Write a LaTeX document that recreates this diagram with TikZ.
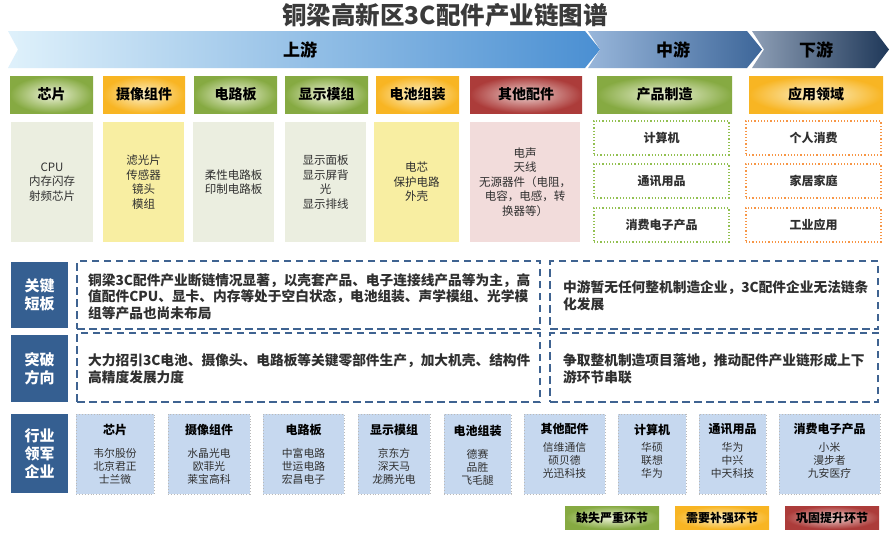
\documentclass[tikz,border=0pt]{standalone}
\usepackage{fontspec}
\setmainfont{Noto Sans CJK SC}
\definecolor{titlegray}{HTML}{3A3A3A}
\definecolor{gA}{HTML}{86AA42}
\definecolor{gAl}{HTML}{EEF3DA}
\definecolor{oA}{HTML}{F8B523}
\definecolor{oAl}{HTML}{FBF1CC}
\definecolor{rA}{HTML}{AC3C3A}
\definecolor{rAl}{HTML}{EDD3D1}
\definecolor{pgray}{HTML}{EBEEE0}
\definecolor{pyellow}{HTML}{F8EEA2}
\definecolor{ppink}{HTML}{F2DCDB}
\definecolor{navy}{HTML}{355F91}
\definecolor{dashblue}{HTML}{3F6391}
\definecolor{lblue}{HTML}{C6D8EF}
\definecolor{dgreen}{HTML}{92C050}
\definecolor{dorange}{HTML}{F79646}
\definecolor{txt}{HTML}{303030}
\definecolor{bAl}{HTML}{DFF1FB}
\definecolor{bAr}{HTML}{4A8FD2}
\definecolor{bBl}{HTML}{98B6DA}
\definecolor{bBr}{HTML}{3D6699}
\definecolor{bCl}{HTML}{8E9FB6}
\definecolor{bCr}{HTML}{1F3859}
\begin{document}
\begin{tikzpicture}[x=1pt,y=-1pt,
  hdr/.style={font=\bfseries\fontsize{14}{16}\selectfont, text=black, inner sep=0pt, minimum height=37pt},
  shg/.style={inner color=gAl, outer color=gA},
  sho/.style={inner color=oAl, outer color=oA},
  shr/.style={inner color=rAl, outer color=rA},
  dtx/.style={font=\fontsize{11.5}{14.5}\selectfont, text=txt, align=center, inner sep=0pt, minimum height=120pt},
  midbox/.style={draw=dgreen, dotted, line width=1.2pt, minimum width=135pt, minimum height=34pt, font=\bfseries\fontsize{12}{14}\selectfont, text=txt},
  appbox/.style={draw=dorange, dotted, line width=1.2pt, minimum width=135pt, minimum height=34pt, font=\bfseries\fontsize{12}{14}\selectfont, text=txt},
  lab/.style={fill=navy, text=white, font=\bfseries\fontsize{15}{18}\selectfont, align=center, inner sep=0pt, minimum width=57pt},
  dbox/.style={draw=dashblue, line width=2pt, dash pattern=on 7.5pt off 4.5pt, minimum height=68pt},
  rtx/.style={font=\bfseries\fontsize{13.7}{16.5}\selectfont, text=txt, align=left, inner sep=0pt, anchor=west},
  cbox/.style={fill=lblue, draw=gray!55, dotted, line width=0.9pt, minimum height=80pt},
  ctitle/.style={font=\bfseries\fontsize{12}{14}\selectfont, text=black, inner sep=0pt},
  cname/.style={font=\fontsize{10.8}{13}\selectfont, text=txt, align=center, inner sep=0pt},
  leg/.style={font=\bfseries\fontsize{12}{14}\selectfont, text=black, inner sep=0pt, minimum width=94pt, minimum height=23pt},
  band/.style={font=\bfseries\fontsize{17}{19}\selectfont, text=black}
]
\useasboundingbox (0,0) rectangle (890,539);
\fill[white] (0,0) rectangle (890,539);

% title
\node[font=\bfseries\fontsize{24.5}{27}\selectfont, text=titlegray] (title) at (445,15) {铜梁高新区3C配件产业链图谱};

% banners
\shade[left color=bAl, right color=bAr] (8,31) -- (585,31) -- (600,49.5) -- (585,68) -- (8,68) -- (18,49.5) -- cycle;
\shade[left color=bBl, right color=bBr] (588,31) -- (747,31) -- (762,49.5) -- (747,68) -- (588,68) -- (600,49.5) -- cycle;
\shade[left color=bCl, right color=bCr] (752,31) -- (875,31) -- (889,49.5) -- (875,68) -- (752,68) -- (764,49.5) -- cycle;
\node[band] (up) at (300,50) {上游};
\node[band] (mid) at (673,50) {中游};
\node[band] (down) at (816,50) {下游};

% header boxes
\node[hdr, shg, minimum width=83pt] (h1) at (51.5,94.5) {芯片};
\node[hdr, sho, minimum width=82pt] (h2) at (144,94.5) {摄像组件};
\node[hdr, shg, minimum width=83pt] (h3) at (235.5,94.5) {电路板};
\node[hdr, shg, minimum width=83pt] (h4) at (326.5,94.5) {显示模组};
\node[hdr, sho, minimum width=83pt] (h5) at (417.5,94.5) {电池组装};
\node[hdr, shr, minimum width=112pt] (h6) at (526,94.5) {其他配件};
\node[hdr, shg, minimum width=135pt] (h7) at (664.5,94.5) {产品制造};
\node[hdr, sho, minimum width=134pt] (h8) at (816,94.5) {应用领域};

% detail boxes
\node[dtx, fill=pgray, minimum width=82pt] (d1) at (52,182) {CPU\\内存闪存\\射频芯片};
\node[dtx, fill=pyellow, minimum width=81pt] (d2) at (143.5,182) {滤光片\\传感器\\镜头\\模组};
\node[dtx, fill=pgray, minimum width=81pt] (d3) at (233.5,182) {柔性电路板\\印制电路板};
\node[dtx, fill=pgray, minimum width=81pt] (d4) at (325.5,182) {显示面板\\显示屏背\\光\\显示排线};
\node[dtx, fill=pyellow, minimum width=85pt] (d5) at (416.5,182) {电芯\\保护电路\\外壳};
\node[dtx, fill=ppink, minimum width=110pt] (d6) at (525,182) {电声\\天线\\无源器件（电阻，\\电容，电感，转\\换器等）};

\node[midbox] (m1) at (661.5,138) {计算机};
\node[midbox] (m2) at (661.5,181) {通讯用品};
\node[midbox] (m3) at (661.5,225) {消费电子产品};
\node[appbox] (a1) at (813.5,138) {个人消费};
\node[appbox] (a2) at (813.5,181) {家居家庭};
\node[appbox] (a3) at (813.5,225) {工业应用};

% row 3
\node[lab, minimum height=66pt] (lab1) at (39.5,295) {关键\\短板};
\node[dbox, minimum width=463pt] (k1) at (308.5,295) {};
\node[dbox, minimum width=328pt] (k2) at (714,295) {};
\node[rtx] (k1t) at (88,296.5) {铜梁3C配件产业断链情况显著，以壳套产品、电子连接线产品等为主，高\\值配件CPU、显卡、内存等处于空白状态，电池组装、声学模组、光学模\\组等产品也尚未布局};
\node[rtx] (k2t) at (563,296) {中游暂无任何整机制造企业，3C配件企业无法链条\\化发展};

% row 4
\node[lab, minimum height=67pt] (lab2) at (39.5,368.5) {突破\\方向};
\node[dbox, minimum width=463pt, minimum height=69pt] (t1) at (308.5,367.5) {};
\node[dbox, minimum width=328pt, minimum height=69pt] (t2) at (714,367.5) {};
\node[rtx] (t1t) at (88,369) {大力招引3C电池、摄像头、电路板等关键零部件生产，加大机壳、结构件\\高精度发展力度};
\node[rtx] (t2t) at (563,369) {争取整机制造项目落地，推动配件产业链形成上下\\游环节串联};

% row 5
\node[lab, minimum height=79pt] (lab3) at (39.5,453.5) {行业\\领军\\企业};
\node[cbox, minimum width=78pt] (c1) at (115,454) {};
\node[cbox, minimum width=82pt] (c2) at (209,454) {};
\node[cbox, minimum width=81pt] (c3) at (303.5,454) {};
\node[cbox, minimum width=72pt] (c4) at (394,454) {};
\node[cbox, minimum width=67pt] (c5) at (477.5,454) {};
\node[cbox, minimum width=81pt] (c6) at (564.5,454) {};
\node[cbox, minimum width=68pt] (c7) at (652,454) {};
\node[cbox, minimum width=67pt] (c8) at (732.5,454) {};
\node[cbox, minimum width=101pt] (c9) at (829.5,454) {};

\node[ctitle] (c1t) at (115,430) {芯片};
\node[ctitle] (c2t) at (209,430) {摄像组件};
\node[ctitle] (c3t) at (303.5,430) {电路板};
\node[ctitle] (c4t) at (394,430) {显示模组};
\node[ctitle] (c5t) at (477.5,431) {电池组装};
\node[ctitle] (c6t) at (564.5,429) {其他配件};
\node[ctitle] (c7t) at (652,430) {计算机};
\node[ctitle] (c8t) at (732.5,429) {通讯用品};
\node[ctitle] (c9t) at (829.5,429) {消费电子产品};

\node[cname] (c1n) at (115,466) {韦尔股份\\北京君正\\士兰微};
\node[cname] (c2n) at (209,466) {水晶光电\\欧菲光\\莱宝高科};
\node[cname] (c3n) at (303.5,466) {中富电路\\世运电路\\宏昌电子};
\node[cname] (c4n) at (394,466) {京东方\\深天马\\龙腾光电};
\node[cname] (c5n) at (477.5,467) {德赛\\品胜\\飞毛腿};
\node[cname] (c6n) at (564.5,460) {信维通信\\硕贝德\\光迅科技};
\node[cname] (c7n) at (652,460) {华硕\\联想\\华为};
\node[cname] (c8n) at (732.5,460) {华为\\中兴\\中天科技};
\node[cname] (c9n) at (829.5,460) {小米\\漫步者\\九安医疗};

% legend
\node[leg, shg] (L1) at (612,517.5) {缺失严重环节};
\node[leg, sho] (L2) at (722,517.5) {需要补强环节};
\node[leg, shr] (L3) at (832,517.5) {巩固提升环节};
\end{tikzpicture}
\end{document}
